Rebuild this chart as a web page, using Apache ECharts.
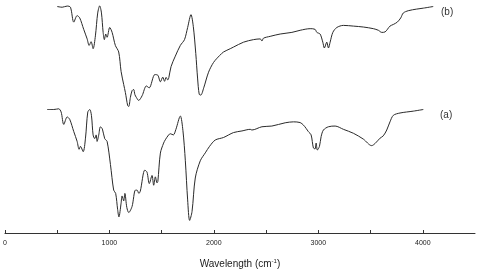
<!DOCTYPE html>
<html>
<head>
<meta charset="utf-8">
<script src="https://cdn.jsdelivr.net/npm/echarts@6/dist/echarts.min.js"></script>
<style>
  html, body { margin: 0; padding: 0; background: #fff; }
  #chart { width: 477px; height: 274px; }
</style>
</head>
<body>
<div id="chart"></div>
<script>
// spectrum (a): [wavenumber cm-1, relative transmittance]
var specA = [
  [404, 53.0], [467, 53.0], [515, 53.3], [538, 51.9], [563, 46.6], [596, 49.8],
  [620, 48.8], [659, 43.5], [691, 39.3], [710, 35.9], [723, 37.2], [749, 34.9],
  [771, 40.7], [793, 51.9], [812, 53.0], [828, 50.5], [844, 42.1], [859, 40.5],
  [873, 42.1], [882, 39.3], [898, 42.1], [914, 45.6], [933, 44.6], [955, 40.5],
  [978, 39.3], [1010, 29.4], [1041, 18.4], [1060, 17.0], [1079, 10.0], [1091, 6.9],
  [1112, 12.8], [1121, 15.9], [1137, 13.8], [1148, 17.0], [1167, 10.9], [1185, 8.8],
  [1217, 11.4], [1249, 18.4], [1265, 18.4], [1282, 17.0], [1296, 18.0], [1339, 27.0],
  [1360, 26.1], [1382, 21.2], [1408, 24.7], [1424, 20.5], [1440, 24.1], [1456, 21.5],
  [1464, 22.2], [1488, 34.3], [1519, 38.6], [1535, 40.0], [1567, 42.1], [1583, 42.6],
  [1612, 42.1], [1636, 44.4], [1679, 50.2], [1704, 43.9], [1727, 31.0], [1749, 14.2],
  [1768, 5.4], [1791, 9.2], [1822, 23.6], [1870, 31.0], [1918, 34.4], [1959, 37.2],
  [2013, 39.9], [2093, 41.0], [2188, 43.1], [2269, 43.8], [2348, 44.5], [2364, 44.2],
  [2460, 45.6], [2555, 45.9], [2683, 47.3], [2762, 47.7], [2826, 47.4], [2858, 46.3],
  [2883, 44.9], [2905, 43.5], [2931, 42.1], [2953, 36.5], [2969, 36.1], [2979, 38.6],
  [2991, 35.6], [3011, 37.2], [3027, 41.4], [3049, 44.2], [3097, 45.6], [3161, 45.9],
  [3240, 44.5], [3336, 42.8], [3431, 40.3], [3511, 37.5], [3543, 38.4], [3591, 40.7],
  [3622, 41.7], [3655, 44.2], [3686, 47.7], [3718, 50.5], [3782, 51.5], [3909, 52.3],
  [4005, 53.0]
];

// spectrum (b)
var specB = [
  [500, 97.2], [548, 96.9], [596, 97.4], [627, 96.9], [659, 90.5], [691, 93.3],
  [716, 92.3], [754, 87.4], [787, 83.3], [806, 80.5], [825, 82.1], [844, 79.1],
  [866, 84.6], [888, 94.4], [907, 97.5], [924, 94.4], [940, 86.1], [952, 83.0],
  [965, 85.4], [978, 84.0], [1003, 88.2], [1026, 86.1], [1057, 80.5], [1089, 77.7],
  [1112, 69.3], [1137, 63.7], [1153, 60.3], [1175, 54.7], [1185, 54.3], [1201, 58.2],
  [1217, 61.1], [1232, 61.6], [1244, 59.4], [1258, 58.2], [1280, 56.9], [1313, 58.9],
  [1354, 63.1], [1381, 62.3], [1435, 68.0], [1464, 67.7], [1488, 64.9], [1511, 66.9],
  [1528, 65.1], [1543, 66.8], [1559, 65.7], [1569, 66.7], [1590, 71.4], [1631, 75.9],
  [1679, 80.5], [1719, 83.0], [1749, 88.2], [1781, 93.7], [1803, 88.7], [1827, 77.0],
  [1844, 66.5], [1860, 59.5], [1875, 59.2], [1903, 62.3], [1949, 69.0], [1997, 73.2],
  [2056, 76.2], [2093, 77.7], [2157, 79.1], [2188, 79.8], [2284, 81.9], [2380, 83.0],
  [2444, 83.3], [2460, 82.4], [2475, 83.6], [2539, 84.4], [2635, 85.4], [2747, 86.1],
  [2826, 87.0], [2922, 87.7], [2969, 87.4], [2986, 86.1], [3017, 85.4], [3043, 81.9],
  [3058, 79.4], [3081, 81.9], [3097, 79.4], [3113, 81.9], [3139, 86.1], [3177, 88.2],
  [3240, 89.1], [3336, 88.8], [3431, 88.4], [3527, 87.7], [3575, 87.0], [3607, 86.1],
  [3639, 86.3], [3686, 88.8], [3718, 89.5], [3756, 90.5], [3789, 92.3], [3813, 94.4],
  [3861, 95.4], [3942, 96.1], [4005, 96.5], [4100, 97.2]
];

var seriesNames = ['(a)', '(b)'];
var xTickLabels = [0, 1000, 2000, 3000, 4000];

var chart = echarts.init(document.getElementById('chart'));

function lineSeries(name, data) {
  return {
    name: name,
    type: 'line',
    data: data,
    showSymbol: false,
    smooth: 0.3,
    lineStyle: { color: '#2a2a2a', width: 1 },
    animation: false
  };
}

var option = {
  backgroundColor: '#fff',
  grid: { left: 4.4, right: 2, top: 0, bottom: 35 },
  xAxis: {
    type: 'value',
    min: 0,
    max: 4500,
    interval: 500,
    name: 'Wavelength (cm{sup|-1})',
    nameLocation: 'middle',
    nameGap: 25,
    nameTextStyle: {
      fontFamily: 'Liberation Sans',
      fontSize: 10,
      color: '#222',
      rich: { sup: { fontSize: 6, verticalAlign: 'top', padding: [0, 0, 6, 0], color: '#222' } }
    },
    axisLine: { lineStyle: { color: '#333', width: 1 } },
    axisTick: { inside: true, length: 3, lineStyle: { color: '#333' } },
    splitLine: { show: false },
    axisLabel: {
      fontFamily: 'Liberation Sans',
      fontSize: 7,
      color: '#222',
      margin: 7,
      showMaxLabel: false,
      formatter: function (v) { return xTickLabels.indexOf(v) >= 0 ? String(v) : ''; }
    }
  },
  yAxis: {
    type: 'value',
    min: 0,
    max: 100,
    show: false
  },
  graphic: [
    { type: 'text', left: 441, top: 7, style: { text: seriesNames[1], font: '10px "Liberation Sans"', fill: '#333' } },
    { type: 'text', left: 440, top: 110, style: { text: seriesNames[0], font: '10px "Liberation Sans"', fill: '#333' } }
  ],
  series: [
    lineSeries(seriesNames[0], specA),
    lineSeries(seriesNames[1], specB)
  ]
};

chart.setOption(option);
</script>
</body>
</html>
